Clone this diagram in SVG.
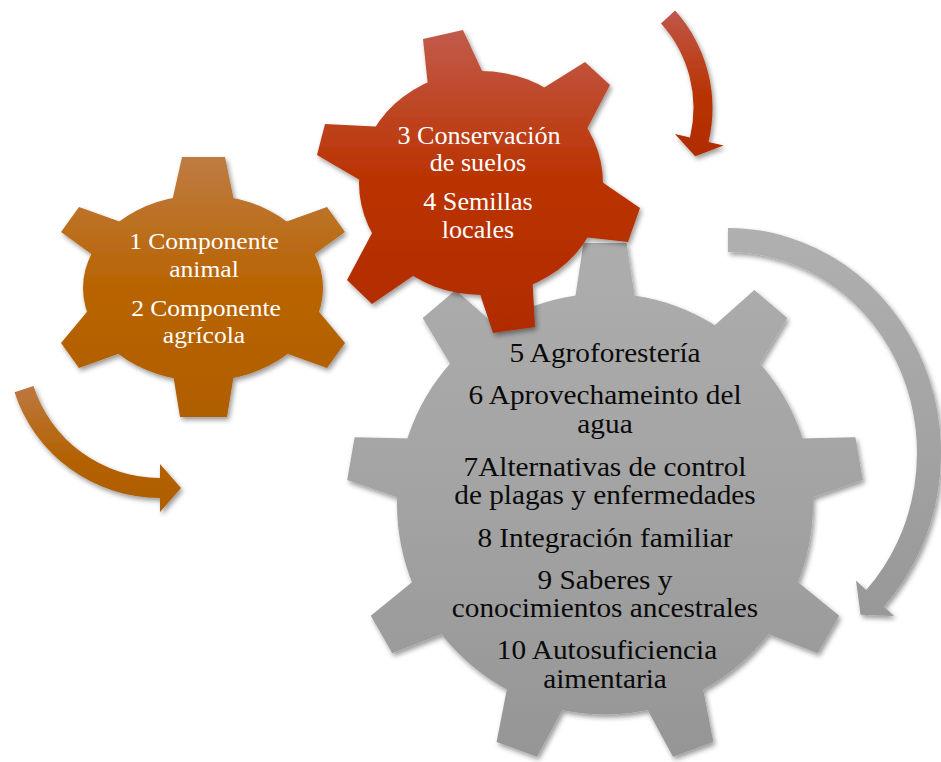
<svg xmlns="http://www.w3.org/2000/svg" width="941" height="762" viewBox="0 0 941 762">
  <defs>
    <filter id="sh" x="-20%" y="-20%" width="140%" height="140%">
      <feDropShadow dx="2" dy="3" stdDeviation="2.5" flood-color="#000" flood-opacity="0.4"/>
    </filter>
    <linearGradient id="gGray" gradientUnits="userSpaceOnUse" x1="0" y1="-258" x2="0" y2="258">
      <stop offset="0" stop-color="#ADADAD"/>
      <stop offset="0.5" stop-color="#A3A3A3"/>
      <stop offset="1" stop-color="#959595"/>
    </linearGradient>
    <linearGradient id="gOrange" gradientUnits="userSpaceOnUse" x1="0" y1="157" x2="0" y2="418">
      <stop offset="0" stop-color="#BF7B43"/>
      <stop offset="0.5" stop-color="#B86400"/>
      <stop offset="1" stop-color="#AF5E00"/>
    </linearGradient>
    <linearGradient id="gRed" gradientUnits="userSpaceOnUse" x1="0" y1="30" x2="0" y2="333">
      <stop offset="0" stop-color="#C25B4B"/>
      <stop offset="0.5" stop-color="#BA3200"/>
      <stop offset="1" stop-color="#B02C00"/>
    </linearGradient>
    <linearGradient id="aOrange" x1="0" y1="0" x2="0" y2="1">
      <stop offset="0" stop-color="#BD7840"/>
      <stop offset="0.6" stop-color="#B36100"/>
      <stop offset="1" stop-color="#AE5D00"/>
    </linearGradient>
    <linearGradient id="aRed" x1="0" y1="0" x2="0" y2="1">
      <stop offset="0" stop-color="#C0574A"/>
      <stop offset="0.6" stop-color="#B83200"/>
      <stop offset="1" stop-color="#B02C00"/>
    </linearGradient>
    <linearGradient id="aGray" x1="0" y1="0" x2="0" y2="1">
      <stop offset="0" stop-color="#B0B0B0"/>
      <stop offset="1" stop-color="#989898"/>
    </linearGradient>
  </defs>
  <style>
    .t { font-family: "Liberation Serif", "Times New Roman", "DejaVu Serif", serif; text-anchor: middle; }
    .tg { font-size: 27.5px; fill: #0A0A0A; }
    .tw { fill: #FFFFFF; }
  </style>

  <!-- Gray gear -->
  <g id="gear-gray">
    <g filter="url(#sh)" fill="url(#gGray)" transform="translate(605,504) scale(1,1.012)">
      <circle cx="0" cy="0" r="208"/>
      <polygon points="-32,-190 -21.5,-258 21.5,-258 32,-190"/>
      <polygon points="97.6,-166.1 149.3,-211.4 182.3,-183.8 146.6,-124.9"/>
      <polygon points="181.5,-64.5 250.4,-66.0 257.8,-23.6 192.7,-1.5"/>
      <polygon points="180.5,67.3 234.2,110.4 212.7,147.6 148.5,122.7"/>
      <polygon points="95.1,167.6 108.4,235.1 68.0,249.8 34.9,189.4"/>
      <polygon points="-95.1,167.6 -108.4,235.1 -68.0,249.8 -34.9,189.4"/>
      <polygon points="-180.5,67.3 -234.2,110.4 -212.7,147.6 -148.5,122.7"/>
      <polygon points="-181.5,-64.5 -250.4,-66.0 -257.8,-23.6 -192.7,-1.5"/>
      <polygon points="-97.6,-166.1 -149.3,-211.4 -182.3,-183.8 -146.6,-124.9"/>
    </g>
    <g class="t tg" font-family="'Liberation Serif', 'Times New Roman', serif" font-size="27.5" text-anchor="middle">
      <text transform="translate(605,362) scale(1.065,1)">5 Agroforestería</text>
      <text transform="translate(605,404) scale(1.065,1)">6 Aprovechameinto del</text>
      <text transform="translate(605,432.5) scale(1.065,1)">agua</text>
      <text transform="translate(605,475.5) scale(1.065,1)">7Alternativas de control</text>
      <text transform="translate(605,504) scale(1.065,1)">de plagas y enfermedades</text>
      <text transform="translate(605,546.5) scale(1.065,1)">8 Integración familiar</text>
      <text transform="translate(605,588.5) scale(1.065,1)">9 Saberes y</text>
      <text transform="translate(605,617) scale(1.065,1)">conocimientos ancestrales</text>
      <text transform="translate(607,659) scale(1.065,1)">10 Autosuficiencia</text>
      <text transform="translate(605,687.5) scale(1.065,1)">aimentaria</text>
    </g>
  </g>

  <!-- Orange gear -->
  <g id="gear-orange">
    <g filter="url(#sh)" fill="url(#gOrange)">
      <ellipse cx="203" cy="288" rx="120" ry="93"/>
      <polygon points="169,215 182,157 225,157 237,215"/>
      <polygon points="171,362 180,417 227,417 236,362"/>
      <polygon points="268.5,228 327,207 345,232 305,261"/>
      <polygon points="305,295 345,343 327,368 268.5,347"/>
      <polygon points="137.5,228 79,207 61,232 101,261"/>
      <polygon points="101,295 61,343 79,368 137.5,347"/>
    </g>
    <g class="t tw" font-family="'Liberation Serif', 'Times New Roman', serif" font-size="24" text-anchor="middle">
      <text transform="translate(204,249) scale(1.065,1)">1 Componente</text>
      <text transform="translate(204,277) scale(1.065,1)">animal</text>
      <text transform="translate(206,316) scale(1.065,1)">2 Componente</text>
      <text transform="translate(204,343) scale(1.065,1)">agrícola</text>
    </g>
  </g>

  <!-- Red gear -->
  <g id="gear-red">
    <g filter="url(#sh)" fill="url(#gRed)">
      <ellipse cx="481" cy="183" rx="122" ry="112"/>
      <polygon points="430,105 423,39 463,30 491,90"/>
      <polygon points="525,99.5 585,62 610,85 577,148"/>
      <polygon points="583,169 640,208 628,242 560.5,234.5"/>
      <polygon points="532,271.5 535,327 493,333 472,270"/>
      <polygon points="379,220 347,280 372,304 429,265"/>
      <polygon points="385,127 325,124 317,155 377,190"/>
    </g>
    <g class="t tw" font-family="'Liberation Serif', 'Times New Roman', serif" font-size="24.5" text-anchor="middle">
      <text transform="translate(479,143.5) scale(1.065,1)">3 Conservación</text>
      <text transform="translate(478,171) scale(1.065,1)">de suelos</text>
      <text transform="translate(478,209.5) scale(1.065,1)">4 Semillas</text>
      <text transform="translate(478,237.5) scale(1.065,1)">locales</text>
    </g>
  </g>

  <!-- Connectors (curved arrows) -->
  <g id="connectors" filter="url(#sh)">
    <path id="arrow-orange" fill="url(#aOrange)" d="M 33.5,386.1 A 133 133 0 0 0 160,478 L 160,464 L 181,488 L 160,512 L 160,498 A 153 153 0 0 1 14.5,392.3 Z"/>
    <path id="arrow-red" fill="url(#aRed)" d="M 675.1,10.6 A 145.5 145.5 0 0 1 708.5,142.0 L 723.6,145.6 L 695.2,156.2 L 674.9,133.9 L 690.0,137.5 A 126.5 126.5 0 0 0 661,23.4 Z"/>
    <path id="arrow-gray" fill="url(#aGray)" d="M 728,228 A 213 225 0 0 1 883.8,606.5 L 894.1,616 L 860.5,614.8 L 856,580.6 L 866.2,590.1 A 189 201 0 0 0 728,252 Z"/>
  </g>
</svg>
